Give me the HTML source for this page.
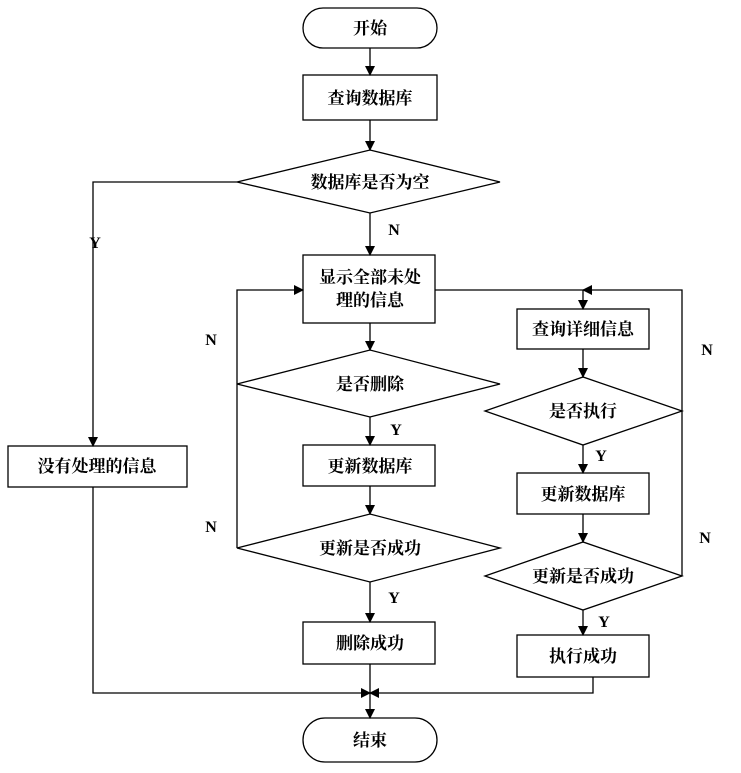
<!DOCTYPE html>
<html><head><meta charset="utf-8"><style>
body{margin:0;background:#fff}
text{font-family:"Liberation Serif","Noto Serif CJK SC",serif;font-size:17px;font-weight:bold;fill:#000}
.l{font-family:"Liberation Serif",serif;font-size:16px}
</style></head><body>
<svg width="741" height="768" viewBox="0 0 741 768" xmlns="http://www.w3.org/2000/svg">
<defs><marker id="a" markerWidth="10" markerHeight="10" refX="9" refY="5" orient="auto" markerUnits="userSpaceOnUse"><path d="M0,0 L10,5 L0,10z" fill="#000"/></marker></defs>
<g fill="none" stroke="#000" stroke-width="1.3">
<rect x="303" y="8" width="134" height="40" rx="20"/>
<rect x="303" y="75" width="134" height="45"/>
<polygon points="237,182 370,150 500,182 370,213"/>
<rect x="303" y="255" width="132" height="68"/>
<polygon points="237,384 370,350 500,384 370,417"/>
<rect x="303" y="445" width="132" height="41"/>
<polygon points="237,548 370,514 500,548 370,582"/>
<rect x="303" y="622" width="132" height="42"/>
<rect x="303" y="718" width="134" height="44" rx="22"/>
<rect x="517" y="309" width="132" height="40"/>
<polygon points="485,411 583,377 682,411 583,445"/>
<rect x="517" y="473" width="132" height="41"/>
<polygon points="485,576 583,542 682,576 583,610"/>
<rect x="517" y="635" width="132" height="42"/>
<rect x="8" y="446" width="179" height="41"/>
<g marker-end="url(#a)">
<line x1="370" y1="48" x2="370" y2="75"/>
<line x1="370" y1="120" x2="370" y2="150"/>
<line x1="370" y1="213" x2="370" y2="255"/>
<line x1="370" y1="323" x2="370" y2="350"/>
<line x1="370" y1="417" x2="370" y2="445"/>
<line x1="370" y1="486" x2="370" y2="514"/>
<line x1="370" y1="582" x2="370" y2="622"/>
<line x1="370" y1="664" x2="370" y2="718"/>
<polyline points="237,182 93,182 93,446"/>
<polyline points="93,487 93,693 370,693"/>
<polyline points="593,677 593,693 370,693"/>
<polyline points="237,548 237,290 303,290"/>
<polyline points="435,290 583,290 583,309"/>
<polyline points="682,576 682,290 583,290"/>
<line x1="583" y1="349" x2="583" y2="377"/>
<line x1="583" y1="445" x2="583" y2="473"/>
<line x1="583" y1="514" x2="583" y2="542"/>
<line x1="583" y1="610" x2="583" y2="635"/>
</g>
</g>
<g text-anchor="middle">
<text x="370" y="34">开始</text>
<text x="370" y="104">查询数据库</text>
<text x="370" y="188">数据库是否为空</text>
<text x="370" y="283">显示全部未处</text>
<text x="370" y="306">理的信息</text>
<text x="370" y="390">是否删除</text>
<text x="370" y="472">更新数据库</text>
<text x="370" y="554">更新是否成功</text>
<text x="370" y="649">删除成功</text>
<text x="370" y="746">结束</text>
<text x="583" y="335">查询详细信息</text>
<text x="583" y="417">是否执行</text>
<text x="583" y="500">更新数据库</text>
<text x="583" y="582">更新是否成功</text>
<text x="583" y="662">执行成功</text>
<text x="97" y="472">没有处理的信息</text>
<text class="l" x="95" y="248">Y</text>
<text class="l" x="394" y="235">N</text>
<text class="l" x="211" y="345">N</text>
<text class="l" x="211" y="532">N</text>
<text class="l" x="396" y="435">Y</text>
<text class="l" x="394" y="603">Y</text>
<text class="l" x="601" y="461">Y</text>
<text class="l" x="604" y="627">Y</text>
<text class="l" x="707" y="355">N</text>
<text class="l" x="705" y="543">N</text>
</g>
</svg>
</body></html>
